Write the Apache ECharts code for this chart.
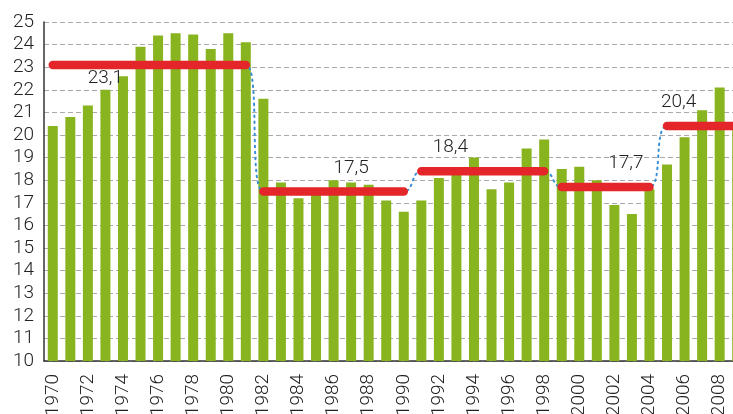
<!DOCTYPE html>
<html>
<head>
<meta charset="utf-8">
<script src="https://cdn.jsdelivr.net/npm/echarts@6/dist/echarts.min.js"></script>
<style>
  html, body { margin: 0; padding: 0; background: #ffffff; }
  #chart { width: 733px; height: 414px; }
</style>
</head>
<body>
<div id="chart"></div>
<script>
const years = [
  "1970", "1971", "1972", "1973", "1974", "1975", "1976", "1977", "1978", "1979",
  "1980", "1981", "1982", "1983", "1984", "1985", "1986", "1987", "1988", "1989",
  "1990", "1991", "1992", "1993", "1994", "1995", "1996", "1997", "1998", "1999",
  "2000", "2001", "2002", "2003", "2004", "2005", "2006", "2007", "2008", "2009"
];

const values = [
  20.4, 20.8, 21.3, 22.0, 22.6, 23.9, 24.4, 24.5, 24.45, 23.8,
  24.5, 24.1, 21.6, 17.9, 17.2, 17.4, 18.0, 17.9, 17.8, 17.1,
  16.6, 17.1, 18.1, 18.3, 19.0, 17.6, 17.9, 19.4, 19.8, 18.5,
  18.6, 18.0, 16.9, 16.5, 17.6, 18.7, 19.9, 21.1, 22.1, 20.3
];

// period averages: first year, last year, mean, year carrying the label
const periodStart = ["1970", "1982", "1991", "1999", "2005"];
const periodEnd = ["1981", "1990", "1998", "2004", "2009"];
const periodMean = [23.1, 17.5, 18.4, 17.7, 20.4];
const labelYear = ["1973", "1987", "1993", "2003", "2006"];
const labelText = ["23,1", "17,5", "18,4", "17,7", "20,4"];

const yTicks = [10, 25, 1];

const red = "#e4262a";
const green = "#88b51f";
const font = "Roboto";

function periodIndex(year) {
  for (let p = 0; p < periodStart.length; p++) {
    if (+year >= +periodStart[p] && +year <= +periodEnd[p]) return p;
  }
  return -1;
}

// one mean value per year for the dotted connector
const meanLine = years.map(y => periodMean[periodIndex(y)]);

const redSeries = periodStart.map((start, p) => {
  const below = p === 0;
  return {
    type: "line",
    z: 5,
    symbol: "circle",
    symbolSize: 0,
    showSymbol: true,
    silent: true,
    lineStyle: { color: red, width: 8.5, cap: "round" },
    data: years.map(y => {
      if (periodIndex(y) !== p) return null;
      if (y === labelYear[p]) {
        return {
          value: periodMean[p],
          label: {
            show: true,
            position: below ? "bottom" : "top",
            distance: below ? 4 : 14,
            offset: p >= 2 ? [-6, 0] : [0, 0],
            formatter: labelText[p],
            color: "#222",
            fontFamily: font,
            fontWeight: 300,
            fontSize: 19
          }
        };
      }
      return periodMean[p];
    })
  };
});

const chart = echarts.init(document.getElementById("chart"), null, { renderer: "canvas" });

chart.setOption({
  animation: false,
  backgroundColor: "#ffffff",
  grid: {
    left: 44,
    top: 22,
    width: 702,
    height: 339,
    outerBoundsMode: "none"
  },
  xAxis: {
    type: "category",
    data: years,
    axisLine: { lineStyle: { color: "#333", width: 1.5 } },
    axisTick: { show: false },
    axisLabel: {
      interval: 1,
      rotate: 90,
      margin: 13,
      color: "#222",
      fontFamily: font,
      fontWeight: 300,
      fontSize: 19
    }
  },
  yAxis: {
    type: "value",
    min: yTicks[0],
    max: yTicks[1],
    interval: yTicks[2],
    axisLine: { show: true, lineStyle: { color: "#333", width: 1.5 } },
    axisTick: { show: false },
    axisLabel: {
      margin: 10,
      color: "#222",
      fontFamily: font,
      fontWeight: 300,
      fontSize: 19
    },
    splitLine: {
      lineStyle: { color: "#aaa", type: [5, 3], width: 1 }
    }
  },
  series: [
    {
      type: "bar",
      barWidth: 10,
      z: 2,
      itemStyle: { color: green },
      data: values
    },
    {
      type: "line",
      z: 4,
      smooth: true,
      symbol: "none",
      silent: true,
      lineStyle: { color: "#3a8fd4", width: 2, type: [1.5, 4.5], cap: "round" },
      data: meanLine
    }
  ].concat(redSeries)
});
</script>
</body>
</html>
